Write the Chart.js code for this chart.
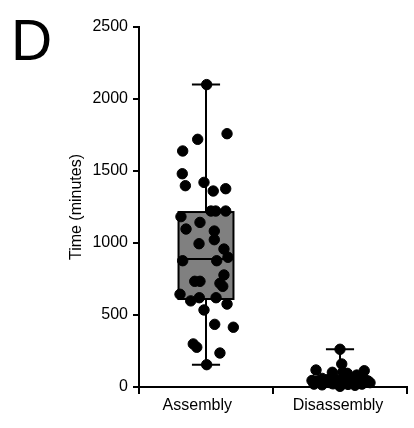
<!DOCTYPE html>
<html>
<head>
<meta charset="utf-8">
<script src="https://cdn.jsdelivr.net/npm/chart.js@4/dist/chart.umd.min.js"></script>
<style>
  html, body { margin: 0; padding: 0; background: #fff; }
  #wrap { position: relative; width: 414px; height: 428px; }
  #panel { position: absolute; left: 11px; top: 12px; font: 57px "Liberation Sans", Arial, sans-serif; line-height: 1; color: #000; }
  canvas { position: absolute; left: 0; top: 0; }
</style>
</head>
<body>
<div id="wrap">
  <canvas id="c" width="414" height="428"></canvas>
  <div id="panel">D</div>
</div>
<script>
// ---- data ----
const categories = ['Assembly', 'Disassembly'];
const yTitle = 'Time (minutes)';
const yTicks = [0, 500, 1000, 1500, 2000, 2500];

const assemblyTimes = [2100, 1759, 1720, 1639, 1481, 1421, 1398, 1377, 1361, 1222, 1222, 1222, 1183, 1143, 1097, 1083, 1023, 995, 958, 901, 877, 877, 778, 734, 734, 720, 699, 644, 620, 620, 598, 576, 535, 435, 415, 299, 276, 236, 155];
const assemblyJitter = [0.505, 0.657, 0.438, 0.326, 0.323, 0.485, 0.346, 0.647, 0.554, 0.537, 0.572, 0.647, 0.313, 0.455, 0.351, 0.562, 0.562, 0.448, 0.634, 0.664, 0.326, 0.580, 0.634, 0.416, 0.455, 0.604, 0.625, 0.306, 0.450, 0.575, 0.386, 0.657, 0.485, 0.565, 0.704, 0.405, 0.431, 0.604, 0.505];

const disassemblyTimes = [262, 160, 118, 113, 102, 102, 95, 83, 60, 55, 50, 65, 45, 40, 35, 30, 40, 28, 35, 25, 45, 30, 20, 15, 22, 10, 18, 12, 20, 5, 50, 38, 42];
const disassemblyJitter = [1.500, 1.513, 1.321, 1.681, 1.443, 1.520, 1.554, 1.625, 1.366, 1.463, 1.575, 1.649, 1.291, 1.336, 1.396, 1.425, 1.485, 1.537, 1.590, 1.634, 1.694, 1.724, 1.306, 1.366, 1.448, 1.500, 1.560, 1.612, 1.664, 1.500, 1.403, 1.522, 1.709];

// box statistics: [min, q1, median, q3, max]
const assemblyBox = [155, 611, 889, 1215, 2100];
const disassemblyBox = [5, 25, 45, 70, 262];

// ---- chart ----
const boxes = [assemblyBox, disassemblyBox];
const labelTickPos = [0.435, 1.485];

function pts(xs, ys) { return ys.map((v, i) => ({ x: xs[i], y: v })); }

const boxPlugin = {
  id: 'boxplot',
  beforeDatasetsDraw(chart) {
    const { ctx, scales: { x, y } } = chart;
    ctx.save();
    ctx.lineWidth = 2;
    ctx.strokeStyle = '#000';
    boxes.forEach((b, i) => {
      const c = i + 0.5;
      const xl = x.getPixelForValue(c - 0.205), xr = x.getPixelForValue(c + 0.205);
      const xc = x.getPixelForValue(c);
      const cl = x.getPixelForValue(c - 0.105), cr = x.getPixelForValue(c + 0.105);
      const yMin = y.getPixelForValue(b[0]), yQ1 = y.getPixelForValue(b[1]), yMed = y.getPixelForValue(b[2]), yQ3 = y.getPixelForValue(b[3]), yMax = y.getPixelForValue(b[4]);
      ctx.beginPath();
      ctx.moveTo(xc, yQ3); ctx.lineTo(xc, yMax);
      ctx.moveTo(cl, yMax); ctx.lineTo(cr, yMax);
      ctx.moveTo(xc, yQ1); ctx.lineTo(xc, yMin);
      ctx.moveTo(cl, yMin); ctx.lineTo(cr, yMin);
      ctx.stroke();
      ctx.fillStyle = '#808080';
      ctx.fillRect(xl, yQ3, xr - xl, yQ1 - yQ3);
      ctx.strokeRect(xl, yQ3, xr - xl, yQ1 - yQ3);
      ctx.beginPath();
      ctx.moveTo(xl, yMed); ctx.lineTo(xr, yMed);
      ctx.stroke();
    });
    ctx.restore();
  }
};

const font = { family: '"Liberation Sans", Arial, sans-serif', size: 16 };

new Chart(document.getElementById('c'), {
  type: 'scatter',
  data: {
    datasets: [
      { label: categories[0], data: pts(assemblyJitter, assemblyTimes), backgroundColor: '#000', borderColor: '#000', pointRadius: 5.2, clip: false },
      { label: categories[1], data: pts(disassemblyJitter, disassemblyTimes), backgroundColor: '#000', borderColor: '#000', pointRadius: 5.2, clip: false }
    ]
  },
  options: {
    responsive: false,
    devicePixelRatio: 1,
    animation: false,
    layout: { padding: { top: 27, right: 7, bottom: 0, left: 0 } },
    plugins: { legend: { display: false }, tooltip: { enabled: false } },
    scales: {
      x: {
        type: 'linear', min: 0, max: 2,
        afterBuildTicks: (s) => { s.ticks = [0, labelTickPos[0], 1, labelTickPos[1], 2].map(v => ({ value: v })); },
        afterFit: (s) => { s.height = 41; },
        border: { display: true, color: '#000', width: 2 },
        grid: {
          drawOnChartArea: false, drawTicks: true, tickLength: 7, lineWidth: 2,
          color: (ctx) => (ctx.tick && Number.isInteger(ctx.tick.value)) ? '#000' : 'rgba(0,0,0,0)'
        },
        ticks: {
          autoSkip: false, maxRotation: 0, minRotation: 0, padding: 2, color: '#000', font,
          callback: (v) => v === labelTickPos[0] ? categories[0] : (v === labelTickPos[1] ? categories[1] : '')
        }
      },
      y: {
        min: 0, max: 2500,
        afterBuildTicks: (s) => { s.ticks = yTicks.map(v => ({ value: v })); },
        afterFit: (s) => { s.width = 139; },
        border: { display: true, color: '#000', width: 2 },
        grid: { drawOnChartArea: false, drawTicks: true, tickLength: 6, lineWidth: 2, color: '#000' },
        ticks: { padding: 5, color: '#000', font, callback: (v) => String(v) },
        title: { display: true, text: yTitle, color: '#000', font, padding: { top: 67, bottom: 0 } }
      }
    }
  },
  plugins: [boxPlugin]
});
</script>
</body>
</html>
